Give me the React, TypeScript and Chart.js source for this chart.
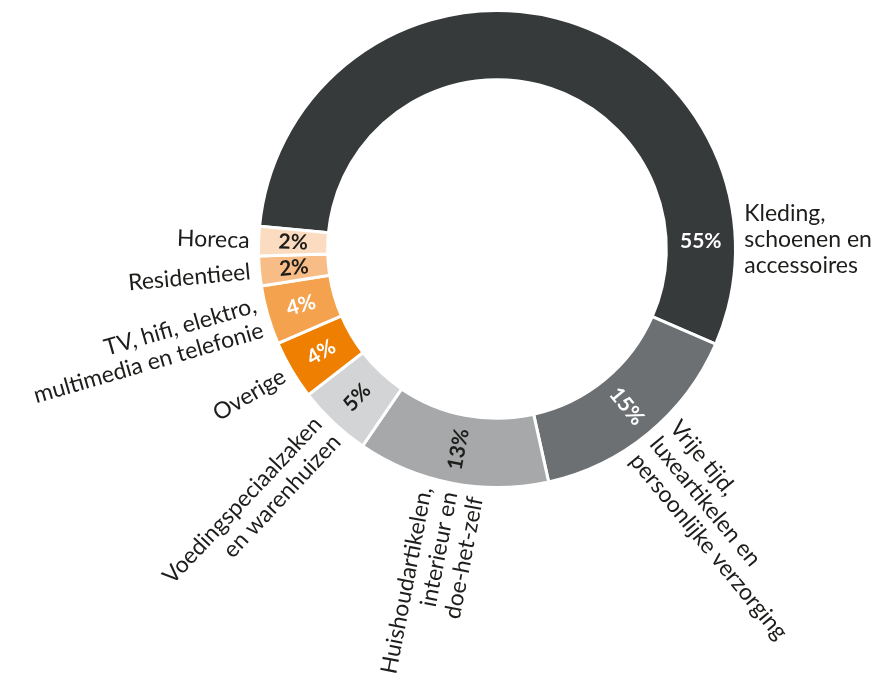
import React, { useEffect, useRef } from "react";
import { Chart, registerables } from "chart.js";

Chart.register(...registerables);

// Category names (split into display lines)
const categories: string[][] = [
  ["Kleding,", "schoenen en", "accessoires"],
  ["Vrije tijd,", "luxeartikelen en", "persoonlijke verzorging"],
  ["Huishoudartikelen,", "interieur en", "doe-het-zelf"],
  ["Voedingspeciaalzaken", "en warenhuizen"],
  ["Overige"],
  ["TV, hifi, elektro,", "multimedia en telefonie"],
  ["Residentieel"],
  ["Horeca"],
];

// Share per category (%)
const values: number[] = [55, 15, 13, 5, 4, 4, 2, 2];

const sliceColors: string[] = [
  "#373a3b",
  "#6d7073",
  "#a6a8aa",
  "#d3d4d5",
  "#ee7f00",
  "#f4a24d",
  "#f8bd86",
  "#fcdcc0",
];

const valueTextColors: string[] = [
  "#ffffff",
  "#ffffff",
  "#1d1d1b",
  "#1d1d1b",
  "#ffffff",
  "#ffffff",
  "#1d1d1b",
  "#1d1d1b",
];

const FONT = "Lato, 'Open Sans', sans-serif";

const ringLabels = {
  id: "ringLabels",
  afterDatasetsDraw(chart: any) {
    const ctx: CanvasRenderingContext2D = chart.ctx;
    const meta = chart.getDatasetMeta(0);
    meta.data.forEach((arc: any, i: number) => {
      const p = arc.getProps(
        ["x", "y", "startAngle", "endAngle", "innerRadius", "outerRadius"],
        true
      );
      let a = (p.startAngle + p.endAngle) / 2;
      let fixed = false;
      if (i === 0) {
        // largest slice: label placed at the right side, horizontal
        a = -0.04;
        fixed = true;
      }
      const right = Math.cos(a) >= 0;
      const rot = fixed ? 0 : right ? a : a + Math.PI;

      // value label inside the ring
      const rm = (p.innerRadius + p.outerRadius) / 2;
      ctx.save();
      ctx.translate(p.x + rm * Math.cos(a), p.y + rm * Math.sin(a));
      ctx.rotate(rot);
      ctx.font = `bold 21px ${FONT}`;
      ctx.fillStyle = valueTextColors[i];
      ctx.textAlign = "center";
      ctx.textBaseline = "middle";
      ctx.fillText(values[i] + "%", 0, 0);
      ctx.restore();

      // category label outside the ring
      const r0 = p.outerRadius + 9;
      const lines = categories[i];
      const lh = 26;
      ctx.save();
      ctx.translate(p.x + r0 * Math.cos(a), p.y + r0 * Math.sin(a));
      ctx.rotate(rot);
      ctx.font = `23px ${FONT}`;
      ctx.fillStyle = "#1d1d1b";
      ctx.textAlign = right ? "left" : "right";
      ctx.textBaseline = "middle";
      lines.forEach((ln, k) => {
        ctx.fillText(ln, 0, (k - (lines.length - 1) / 2) * lh);
      });
      ctx.restore();
    });
  },
};

export default function App() {
  const ref = useRef<HTMLCanvasElement | null>(null);
  useEffect(() => {
    if (!ref.current) return;
    const chart = new Chart(ref.current, {
      type: "doughnut",
      data: {
        labels: categories.map((c) => c.join(" ")),
        datasets: [
          {
            data: values,
            backgroundColor: sliceColors,
            borderColor: "#ffffff",
            borderWidth: 3,
          },
        ],
      },
      options: {
        responsive: true,
        maintainAspectRatio: false,
        animation: false,
        rotation: -84.5,
        cutout: "71%",
        layout: { padding: { left: 257, right: 147, top: 9, bottom: 189 } },
        plugins: {
          legend: { display: false },
          tooltip: { enabled: false },
        },
      },
      plugins: [ringLabels],
    });
    return () => chart.destroy();
  }, []);
  return (
    <div style={{ position: "absolute", left: 0, top: 0, width: 884, height: 678 }}>
      <canvas ref={ref} />
    </div>
  );
}
